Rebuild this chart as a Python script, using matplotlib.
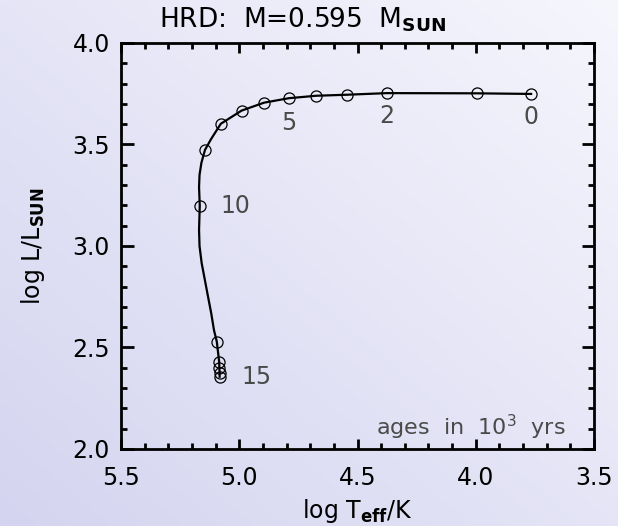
"""HRD post-AGB track, M = 0.595 Msun, ages in 10^3 yr."""
import numpy as np
import matplotlib
matplotlib.use("Agg")
import matplotlib.pyplot as plt
from matplotlib.ticker import MultipleLocator, FormatStrFormatter

plt.rcParams["font.family"] = ["DejaVu Sans"]
plt.rcParams["mathtext.fontset"] = "dejavusans"

# age markers (every 1e3 yr)
ages = np.arange(16)
mark_logT = [3.766, 3.996, 4.375, 4.546, 4.675, 4.790, 4.895, 4.990,
             5.078, 5.145, 5.167, 5.095, 5.085, 5.084, 5.083, 5.083]
mark_logL = [3.749, 3.752, 3.753, 3.745, 3.740, 3.728, 3.706, 3.667,
             3.602, 3.473, 3.199, 2.529, 2.430, 2.397, 2.373, 2.356]

# the drawn track (denser along the knee)
track_logT = [3.766, 3.996, 4.375, 4.546, 4.675, 4.790, 4.895, 4.990,
              5.078, 5.095, 5.120, 5.145, 5.160, 5.168, 5.170, 5.167,
              5.170, 5.168, 5.159, 5.145, 5.132, 5.118, 5.107, 5.095,
              5.085, 5.084, 5.083, 5.083]
track_logL = [3.749, 3.752, 3.753, 3.745, 3.740, 3.728, 3.706, 3.667,
              3.602, 3.571, 3.525, 3.473, 3.410, 3.350, 3.290, 3.199,
              3.079, 3.000, 2.916, 2.830, 2.750, 2.665, 2.586, 2.529,
              2.430, 2.397, 2.373, 2.356]

labelled = [0, 2, 5, 10, 15]
label_offset = {0: (0, -0.115), 2: (0, -0.115), 5: (0.0, -0.12),
                10: (-0.15, 0.0), 15: (-0.155, 0.0)}

fig = plt.figure(figsize=(6.18, 5.26), dpi=100)

# lavender gradient backdrop
bg = fig.add_axes([0, 0, 1, 1], zorder=-10)
yy, xx = np.mgrid[0:1:200j, 0:1:200j]
t = (xx + (1 - yy)) / 2.0
c0 = np.array([212, 212, 240]) / 255.0
c1 = np.array([246, 246, 253]) / 255.0
img = c0[None, None, :] * (1 - t[..., None]) + c1[None, None, :] * t[..., None]
bg.imshow(img, extent=[0, 1, 0, 1], aspect="auto", origin="upper")
bg.axis("off")

ax = fig.add_axes([0.1958, 0.1464, 0.9612 - 0.1958, 0.9183 - 0.1464])
ax.patch.set_alpha(0)

ax.plot(track_logT, track_logL, color="black", lw=1.6, zorder=3)
ax.plot(mark_logT, mark_logL, ls="none", marker="o", ms=8,
        mfc="none", mec="black", mew=0.9, zorder=4)

for a in labelled:
    dx, dy = label_offset[a]
    ax.text(mark_logT[a] + dx, mark_logL[a] + dy, str(ages[a]),
            color="#4a4a4a", fontsize=17, ha="center", va="center")

ax.text(3.62, 2.105, r"ages  in  10$^3$  yrs", color="#4a4a4a",
        fontsize=16, ha="right", va="center")

ax.set_xlim(5.5, 3.5)
ax.set_ylim(2.0, 4.0)
ax.xaxis.set_major_locator(MultipleLocator(0.5))
ax.xaxis.set_minor_locator(MultipleLocator(0.1))
ax.yaxis.set_major_locator(MultipleLocator(0.5))
ax.yaxis.set_minor_locator(MultipleLocator(0.1))
ax.xaxis.set_major_formatter(FormatStrFormatter("%.1f"))
ax.yaxis.set_major_formatter(FormatStrFormatter("%.1f"))
ax.tick_params(which="both", direction="in", top=True, right=True,
               width=2, labelsize=17)
ax.tick_params(axis="x", which="major", length=7, pad=12)
ax.tick_params(axis="y", which="major", length=9, pad=8)
ax.tick_params(which="minor", length=4)
for s in ax.spines.values():
    s.set_linewidth(2)

ax.set_xlabel(r"log T$_\mathbf{eff}$/K", fontsize=17, labelpad=5)
ax.set_ylabel(r"log L/L$_\mathbf{SUN}$", fontsize=17, labelpad=18)
fig.text(0.49, 0.963, r"HRD:  M=0.595  M$_\mathbf{SUN}$", fontsize=19,
         ha="center", va="center")

fig.savefig("out.png", dpi=100)
